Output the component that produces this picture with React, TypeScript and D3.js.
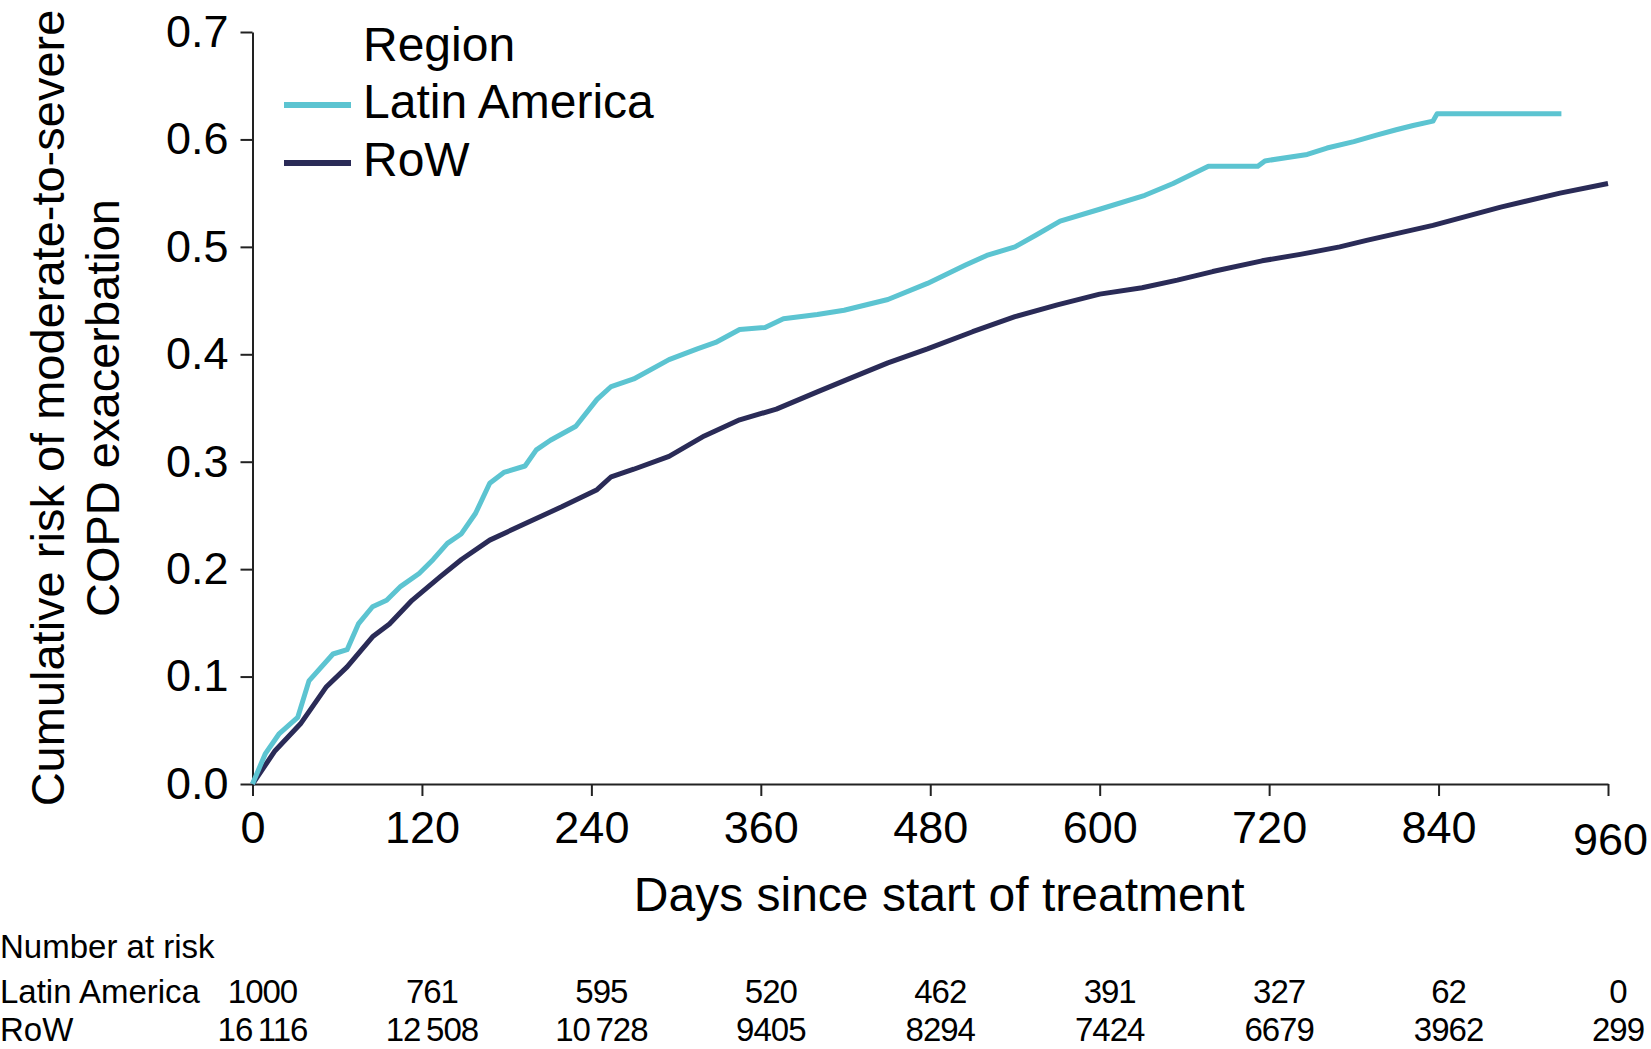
import React, { useEffect, useRef } from 'react';
import * as d3 from 'd3';

// Kaplan-Meier style cumulative risk
const latinDays = [0, 9, 19, 32, 40, 57, 67, 75, 85, 95, 105, 118, 128, 138, 148, 158, 168, 178, 193, 201, 211, 229, 244, 254, 270, 295, 315, 328, 345, 363, 376, 400, 419, 450, 478, 505, 520, 540, 555, 572, 600, 632, 652, 677, 712, 717, 747, 761, 780, 796, 810, 822, 836, 839, 927];
const latinRisk = [0, 0.028, 0.047, 0.062, 0.096, 0.121, 0.125, 0.149, 0.165, 0.171, 0.184, 0.196, 0.209, 0.224, 0.233, 0.252, 0.28, 0.29, 0.296, 0.311, 0.32, 0.333, 0.358, 0.37, 0.377, 0.395, 0.405, 0.411, 0.423, 0.425, 0.433, 0.437, 0.441, 0.451, 0.466, 0.483, 0.492, 0.5, 0.511, 0.524, 0.535, 0.548, 0.559, 0.575, 0.575, 0.58, 0.586, 0.592, 0.598, 0.604, 0.609, 0.613, 0.617, 0.624, 0.624];

const rowDays = [0, 16, 34, 52, 67, 85, 97, 113, 133, 148, 168, 194, 219, 244, 254, 270, 295, 320, 345, 371, 400, 424, 450, 478, 510, 540, 570, 600, 630, 655, 680, 715, 742, 770, 789, 836, 884, 926, 960];
const rowRisk = [0, 0.031, 0.056, 0.09, 0.109, 0.137, 0.149, 0.171, 0.193, 0.209, 0.227, 0.243, 0.258, 0.274, 0.286, 0.293, 0.305, 0.324, 0.339, 0.349, 0.365, 0.378, 0.392, 0.405, 0.421, 0.435, 0.446, 0.456, 0.462, 0.469, 0.477, 0.487, 0.493, 0.5, 0.506, 0.52, 0.537, 0.55, 0.559];

const xTicks = [0, 120, 240, 360, 480, 600, 720, 840, 960];
const yTicks = [0, 0.1, 0.2, 0.3, 0.4, 0.5, 0.6, 0.7];

const seriesNames = ['Latin America', 'RoW'];
const seriesColors = ['#5cc4d1', '#2a2b57'];

const atRiskLatin = ['1000', '761', '595', '520', '462', '391', '327', '62', '0'];
const atRiskRow = ['16\u2009116', '12\u2009508', '10\u2009728', '9405', '8294', '7424', '6679', '3962', '299'];

const FONT = '"Liberation Sans", Arial, Helvetica, sans-serif';

const App = () => {
  const svgRef = useRef(null);

  useEffect(() => {
    const svg = d3.select(svgRef.current);
    svg.selectAll('*').remove();

    // plot area in pixel space
    const left = 252.5;
    const right = 1608;
    const top = 32;
    const bottom = 784;

    const x = d3.scaleLinear().domain([0, 960]).range([left, right]);
    const y = d3.scaleLinear().domain([0, 0.7]).range([bottom, top]);

    // y axis
    const yAxis = svg
      .append('g')
      .attr('transform', `translate(${left},0)`)
      .call(
        d3
          .axisLeft(y)
          .tickValues(yTicks)
          .tickFormat(d3.format('.1f'))
          .tickSize(12)
          .tickSizeOuter(0)
          .tickPadding(12)
      );
    yAxis.select('.domain').attr('stroke', '#222').attr('stroke-width', 2);
    yAxis.selectAll('.tick line').attr('stroke', '#222').attr('stroke-width', 2);
    yAxis
      .selectAll('.tick text')
      .attr('font-family', FONT)
      .attr('font-size', 45)
      .attr('fill', '#000');

    // x axis
    const xAxis = svg
      .append('g')
      .attr('transform', `translate(0,${bottom})`)
      .call(
        d3
          .axisBottom(x)
          .tickValues(xTicks)
          .tickFormat(d3.format('d'))
          .tickSize(12)
          .tickSizeOuter(0)
          .tickPadding(15)
      );
    xAxis.select('.domain').attr('stroke', '#222').attr('stroke-width', 2);
    xAxis.selectAll('.tick line').attr('stroke', '#222').attr('stroke-width', 2);
    xAxis
      .selectAll('.tick text')
      .attr('font-family', FONT)
      .attr('font-size', 45)
      .attr('fill', '#000');
    // the last label sits a little lower in the original
    xAxis
      .selectAll('.tick text')
      .filter((d) => d === 960)
      .attr('dx', 2)
      .attr('y', 39);

    // axis titles
    svg
      .append('text')
      .attr('transform', `translate(47,${(top + bottom) / 2}) rotate(-90)`)
      .attr('text-anchor', 'middle')
      .attr('dy', '0.36em')
      .attr('font-family', FONT)
      .attr('font-size', 47)
      .text('Cumulative risk of moderate-to-severe');
    svg
      .append('text')
      .attr('transform', `translate(102,${(top + bottom) / 2}) rotate(-90)`)
      .attr('text-anchor', 'middle')
      .attr('dy', '0.36em')
      .attr('font-family', FONT)
      .attr('font-size', 47)
      .text('COPD exacerbation');
    svg
      .append('text')
      .attr('x', (left + right) / 2 + 9)
      .attr('y', 911)
      .attr('text-anchor', 'middle')
      .attr('font-family', FONT)
      .attr('font-size', 48)
      .text('Days since start of treatment');

    // curves
    const line = d3
      .line()
      .x((d) => x(d[0]))
      .y((d) => y(d[1]))
      .curve(d3.curveLinear);

    const series = [
      d3.zip(rowDays, rowRisk),
      d3.zip(latinDays, latinRisk),
    ];
    const colorsInOrder = [seriesColors[1], seriesColors[0]];

    series.forEach((pts, i) => {
      svg
        .append('path')
        .datum(pts)
        .attr('fill', 'none')
        .attr('stroke', colorsInOrder[i])
        .attr('stroke-width', 5)
        .attr('stroke-linejoin', 'round')
        .attr('d', line);
    });

    // legend
    const legend = svg.append('g');
    legend
      .append('text')
      .attr('x', 363)
      .attr('y', 61)
      .attr('font-family', FONT)
      .attr('font-size', 48)
      .text('Region');
    seriesNames.forEach((name, i) => {
      const ly = 105 + i * 58;
      legend
        .append('line')
        .attr('x1', 284)
        .attr('x2', 351)
        .attr('y1', ly)
        .attr('y2', ly)
        .attr('stroke', seriesColors[i])
        .attr('stroke-width', 6);
      legend
        .append('text')
        .attr('x', 363)
        .attr('y', ly + 13)
        .attr('font-family', FONT)
        .attr('font-size', 48)
        .text(name);
    });

    // number at risk table
    const rowY = [1003, 1041];
    const table = svg.append('g').attr('font-family', FONT).attr('font-size', 33);
    table.append('text').attr('x', 0).attr('y', 958).text('Number at risk');
    table.append('text').attr('x', 0).attr('y', rowY[0]).text('Latin America');
    table.append('text').attr('x', 0).attr('y', rowY[1]).text('RoW');

    const rows = [atRiskLatin, atRiskRow];
    rows.forEach((vals, r) => {
      table
        .selectAll(`text.risk-${r}`)
        .data(vals)
        .enter()
        .append('text')
        .attr('class', `risk-${r}`)
        .attr('x', (d, i) => x(xTicks[i]) + 10)
        .attr('y', rowY[r])
        .attr('text-anchor', 'middle')
        .attr('letter-spacing', -1)
        .text((d) => d);
    });
  }, []);

  return (
    <svg
      ref={svgRef}
      width={1651}
      height={1049}
      style={{ position: 'absolute', left: 0, top: 0, background: '#fff' }}
    ></svg>
  );
};

export default App;
